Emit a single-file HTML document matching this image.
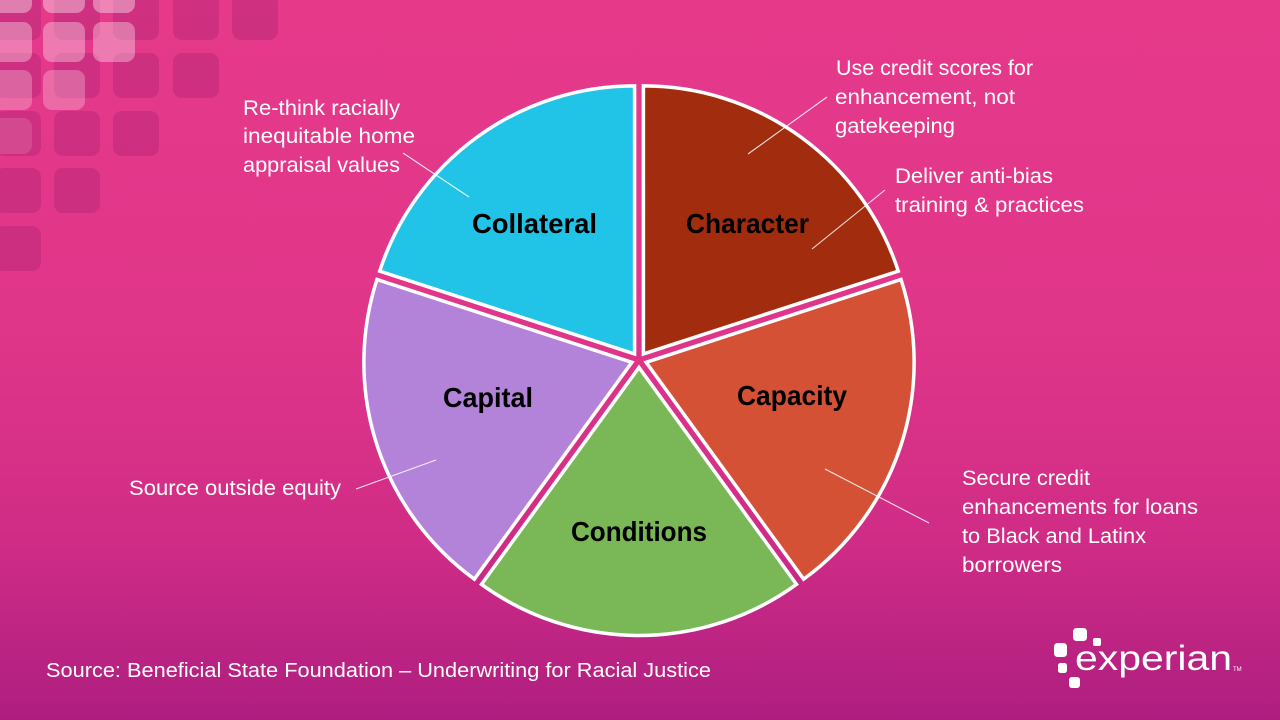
<!DOCTYPE html>
<html><head><meta charset="utf-8"><style>
html,body{margin:0;padding:0;width:1280px;height:720px;overflow:hidden}
svg{display:block}
.t{font-family:"Liberation Sans",Arial,sans-serif;fill:#fff;font-size:21px}
.b{font-family:"Liberation Sans",Arial,sans-serif;font-weight:bold;fill:#000;font-size:27.5px}
</style></head><body>
<svg width="1280" height="720" viewBox="0 0 1280 720" xmlns="http://www.w3.org/2000/svg">
<defs>
<linearGradient id="bg" x1="0" y1="0" x2="0" y2="1">
<stop offset="0" stop-color="#E6398A"/>
<stop offset="0.45" stop-color="#E03689"/>
<stop offset="0.75" stop-color="#D02C86"/>
<stop offset="1" stop-color="#AE1E80"/>
</linearGradient>
</defs>
<rect width="1280" height="720" fill="url(#bg)"/>
<!-- decorative dark squares -->
<g fill="rgb(160,30,110)" fill-opacity="0.33">
<rect x="-5" y="-6" width="46" height="46" rx="9"/>
<rect x="54" y="-6" width="46" height="46" rx="9"/>
<rect x="113" y="-6" width="46" height="46" rx="9"/>
<rect x="173" y="-6" width="46" height="46" rx="9"/>
<rect x="232" y="-6" width="46" height="46" rx="9"/>
<rect x="-5" y="53" width="46" height="45" rx="9"/>
<rect x="54" y="53" width="46" height="45" rx="9"/>
<rect x="113" y="53" width="46" height="45" rx="9"/>
<rect x="173" y="53" width="46" height="45" rx="9"/>
<rect x="-5" y="111" width="46" height="45" rx="9"/>
<rect x="54" y="111" width="46" height="45" rx="9"/>
<rect x="113" y="111" width="46" height="45" rx="9"/>
<rect x="-5" y="168" width="46" height="45" rx="9"/>
<rect x="54" y="168" width="46" height="45" rx="9"/>
<rect x="-5" y="226" width="46" height="45" rx="9"/>
</g>
<g fill="#fff">
<rect x="-10" y="-28" width="42" height="41" rx="9" fill-opacity="0.38"/>
<rect x="43" y="-28" width="42" height="41" rx="9" fill-opacity="0.38"/>
<rect x="93" y="-28" width="42" height="41" rx="9" fill-opacity="0.38"/>
<rect x="-10" y="22" width="42" height="40" rx="9" fill-opacity="0.33"/>
<rect x="43" y="22" width="42" height="40" rx="9" fill-opacity="0.33"/>
<rect x="93" y="22" width="42" height="40" rx="9" fill-opacity="0.33"/>
<rect x="-10" y="70" width="42" height="40" rx="9" fill-opacity="0.25"/>
<rect x="43" y="70" width="42" height="40" rx="9" fill-opacity="0.25"/>
<rect x="-10" y="118" width="42" height="36" rx="9" fill-opacity="0.12"/>
</g>

<!-- pie slices -->
<g stroke="#fff" stroke-width="3.5" stroke-linejoin="miter">
<path d="M643.41,353.93 L643.41,85.93 A268,268 0 0 1 898.29,271.11 Z" fill="#A12D0E"/>
<path d="M646.13,362.32 L901.01,279.50 A268,268 0 0 1 803.66,579.14 Z" fill="#D45135"/>
<path d="M639,367.5 L796.53,584.32 A268,268 0 0 1 481.47,584.32 Z" fill="#7AB756"/>
<path d="M631.87,362.32 L474.34,579.14 A268,268 0 0 1 376.99,279.50 Z" fill="#B383DA"/>
<path d="M634.59,353.93 L379.71,271.11 A268,268 0 0 1 634.59,85.93 Z" fill="#21C4E6"/>
</g>

<!-- leader lines -->
<g stroke="#fff" stroke-width="1.1" stroke-opacity="0.85">
<line x1="748" y1="154" x2="827" y2="97"/>
<line x1="812" y1="249" x2="885" y2="190"/>
<line x1="403" y1="153" x2="469" y2="197"/>
<line x1="825" y1="469" x2="929" y2="523"/>
<line x1="356" y1="489" x2="436" y2="460"/>
</g>

<!-- slice labels -->
<text class="b" x="472" y="233" textLength="125" lengthAdjust="spacingAndGlyphs">Collateral</text>
<text class="b" x="686" y="233" textLength="123" lengthAdjust="spacingAndGlyphs">Character</text>
<text class="b" x="737" y="405" textLength="110" lengthAdjust="spacingAndGlyphs">Capacity</text>
<text class="b" x="443" y="407" textLength="90" lengthAdjust="spacingAndGlyphs">Capital</text>
<text class="b" x="571" y="541" textLength="136" lengthAdjust="spacingAndGlyphs">Conditions</text>

<!-- annotations -->
<text class="t" x="836" y="75" textLength="197" lengthAdjust="spacingAndGlyphs">Use credit scores for</text>
<text class="t" x="835" y="104" textLength="180" lengthAdjust="spacingAndGlyphs">enhancement, not</text>
<text class="t" x="835" y="133" textLength="120" lengthAdjust="spacingAndGlyphs">gatekeeping</text>

<text class="t" x="895" y="183" textLength="158" lengthAdjust="spacingAndGlyphs">Deliver anti-bias</text>
<text class="t" x="895" y="212" textLength="189" lengthAdjust="spacingAndGlyphs">training &amp; practices</text>

<text class="t" x="243" y="115" textLength="157" lengthAdjust="spacingAndGlyphs">Re-think racially</text>
<text class="t" x="243" y="143" textLength="172" lengthAdjust="spacingAndGlyphs">inequitable home</text>
<text class="t" x="243" y="172" textLength="157" lengthAdjust="spacingAndGlyphs">appraisal values</text>

<text class="t" x="962" y="485" textLength="128" lengthAdjust="spacingAndGlyphs">Secure credit</text>
<text class="t" x="962" y="514" textLength="236" lengthAdjust="spacingAndGlyphs">enhancements for loans</text>
<text class="t" x="962" y="543" textLength="184" lengthAdjust="spacingAndGlyphs">to Black and Latinx</text>
<text class="t" x="962" y="572" textLength="100" lengthAdjust="spacingAndGlyphs">borrowers</text>

<text class="t" x="129" y="495" textLength="212" lengthAdjust="spacingAndGlyphs">Source outside equity</text>

<text class="t" x="46" y="677" style="font-size:20px" textLength="665" lengthAdjust="spacingAndGlyphs">Source: Beneficial State Foundation – Underwriting for Racial Justice</text>

<!-- experian logo -->
<g fill="#fff">
<rect x="1073" y="628" width="14" height="13" rx="3.5"/>
<rect x="1093" y="638" width="8" height="8" rx="2"/>
<rect x="1054" y="643" width="13" height="14" rx="3.5"/>
<rect x="1058" y="663" width="9" height="10" rx="2.5"/>
<rect x="1069" y="677" width="11" height="11" rx="3"/>
</g>
<text x="1075" y="670" style="font-family:'Liberation Sans',Arial,sans-serif;font-size:35px;fill:#fff" textLength="157" lengthAdjust="spacingAndGlyphs">experian</text>
<text x="1233" y="671" style="font-family:'Liberation Sans',Arial,sans-serif;font-size:6px;fill:#fff">TM</text>
</svg>
</body></html>
